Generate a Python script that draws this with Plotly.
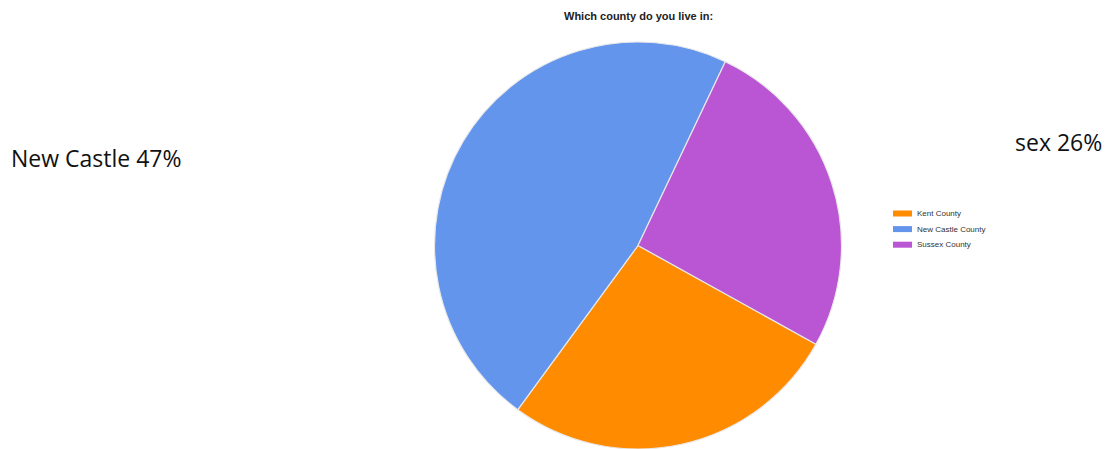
import plotly.graph_objects as go

# County shares (percent of respondents)
counties = ["Kent County", "New Castle County", "Sussex County"]
shares = [27, 47, 26]
colors = ["#FF8C00", "#6495ED", "#BA55D3"]

W, H = 1108, 449

fig = go.Figure()
fig.add_trace(go.Pie(
    labels=counties,
    values=shares,
    sort=False,
    direction="clockwise",
    rotation=119,
    marker=dict(colors=colors, line=dict(color="#e8e8e8", width=1.2)),
    textinfo="none",
    showlegend=False,
    domain=dict(x=[434.5 / W, 841.5 / W], y=[0, 407 / H]),
))

annotations = [
    dict(text="<b>Which county do you live in:</b>", x=638 / W, y=1 - 16 / H,
         xref="paper", yref="paper", showarrow=False,
         font=dict(family="Liberation Sans, Arial", size=11, color="#222222"),
         xanchor="center", yanchor="middle"),
    dict(text=f"New Castle {shares[1]}%", x=9 / W, y=1 - 157.5 / H,
         xref="paper", yref="paper", showarrow=False,
         font=dict(family="Open Sans", size=23, color="#111111"),
         xanchor="left", yanchor="middle"),
    dict(text=f"sex {shares[2]}%", x=1104 / W, y=1 - 142 / H,
         xref="paper", yref="paper", showarrow=False,
         font=dict(family="Open Sans", size=23, color="#111111"),
         xanchor="right", yanchor="middle"),
]

# Legend: small colour swatch with the county name beside it
shapes = []
for i, (name, col) in enumerate(zip(counties, colors)):
    yc = 213.5 + i * 15.6
    shapes.append(dict(type="rect", xref="paper", yref="paper",
                       x0=893 / W, x1=912 / W,
                       y0=1 - (yc + 3) / H, y1=1 - (yc - 3) / H,
                       fillcolor=col, line=dict(width=0)))
    annotations.append(dict(text=name, x=915 / W, y=1 - yc / H,
                            xref="paper", yref="paper", showarrow=False,
                            font=dict(family="Liberation Sans, Arial", size=8, color="#333333"),
                            xanchor="left", yanchor="middle"))

fig.update_layout(
    width=W, height=H,
    margin=dict(l=0, r=0, t=0, b=0),
    paper_bgcolor="white",
    plot_bgcolor="white",
    annotations=annotations,
    shapes=shapes,
)

fig.write_html("out.html")
